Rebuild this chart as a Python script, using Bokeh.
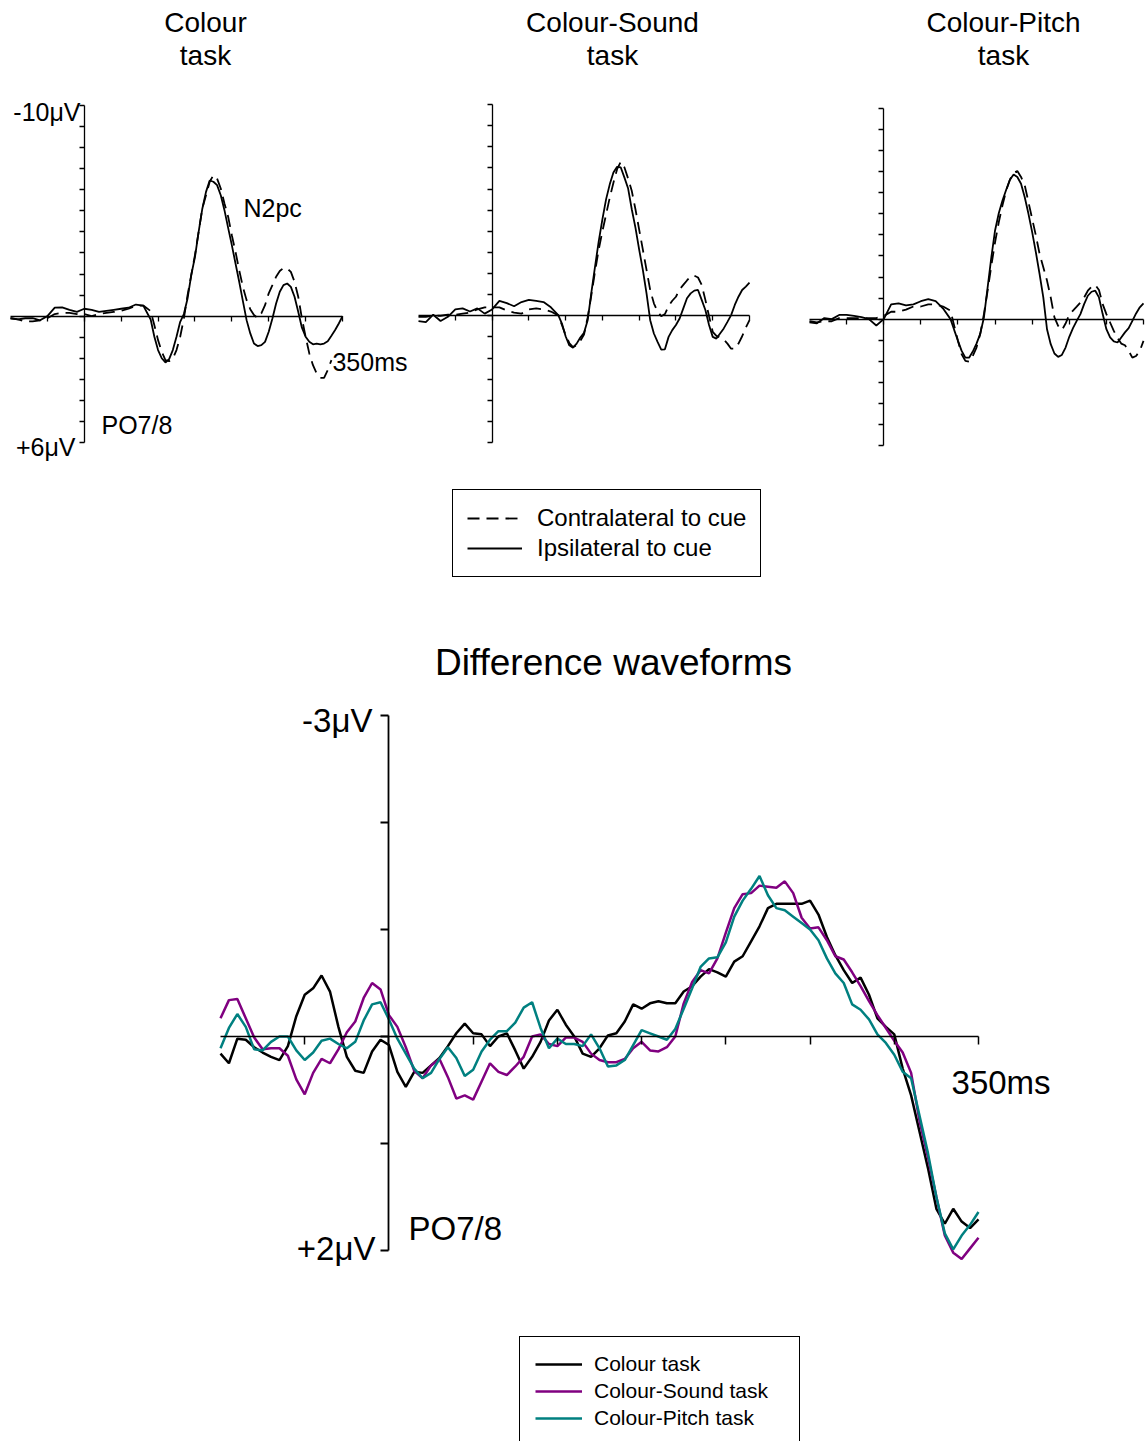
from bokeh.plotting import figure
from bokeh.layouts import column, row
from bokeh.models import Range1d, FixedTicker, Label, Legend, LegendItem, LinearAxis
from bokeh.embed import file_html
from bokeh.resources import INLINE

FONT = "Liberation Sans"

# ---------------- data ----------------
# ERP panels: 10 ms steps in the baseline, 5 ms steps from 90 ms on
T_TOP = [-100, -90, -80, -70, -60, -50, -40, -30, -20, -10, 0, 10, 20, 30, 40, 50, 60, 70, 80,
         90, 95, 100, 105, 110, 115, 120, 125, 130, 135, 140, 145, 150, 155, 160, 165, 170, 175,
         180, 185, 190, 195, 200, 205, 210, 215, 220, 225, 230, 235, 240, 245, 250, 255, 260, 265,
         270, 275, 280, 285, 290, 295, 300, 305, 310, 315, 320, 325, 330, 335, 340, 345, 350]
T5 = list(range(-100, 351, 5))          # ms, difference waveforms
MS_TICKS = [-50, 0, 50, 100, 150, 200, 250, 300, 350]
TOP_UV_TICKS = list(range(-10, 7))
BOT_UV_TICKS = [-3, -2, -1, 0, 1, 2]

# Grand-average ERPs at PO7/8 (µV, negative plotted up)
colour_ipsi = [0.1, 0.15, 0.1, 0.1, 0.2, 0.0, -0.4, -0.42, -0.3, -0.2, -0.35, -0.3, -0.2, -0.25, -0.3,
               -0.35, -0.4, -0.55, -0.5,
               0.16, 0.98, 1.61, 2.0, 2.2, 2.04, 1.61, 0.98, 0.27, -0.1, -0.84, -1.95, -2.8, -4.0,
               -5.1, -5.9, -6.44, -6.38, -6.22, -5.74, -5.03, -4.19, -3.37, -2.5, -1.63, -0.71, 0.19,
               0.82, 1.3, 1.42, 1.38, 1.22, 0.74, 0.11, -0.6, -1.16, -1.47, -1.55, -1.39, -0.92, -0.21,
               0.55, 0.98, 1.22, 1.34, 1.31, 1.34, 1.3, 1.19, 0.93, 0.66, 0.35, 0.0]
colour_contra = [0.1, 0.15, 0.25, 0.25, 0.2, 0.1, -0.1, -0.15, -0.15, -0.1, -0.1, 0.0, -0.1, -0.15, -0.2,
                 -0.25, -0.35, -0.5, -0.5,
                 -0.24, 0.43, 1.14, 1.69, 2.09, 2.14, 2.01, 1.61, 0.98, 0.11, -1.0, -1.95, -2.9, -4.0,
                 -5.11, -5.74, -6.38, -6.69, -6.53, -6.06, -5.35, -4.72, -3.84, -3.05, -2.18, -1.39, -0.76,
                 -0.33, -0.05, 0.08, -0.13, -0.52, -1.08, -1.47, -1.87, -2.14, -2.29, -2.26, -2.1, -1.63,
                 -0.92, 0.11, 0.98, 1.77, 2.33, 2.72, 2.93, 2.93, 2.56, 2.09]
sound_ipsi = [0.25, 0.3, -0.05, 0.25, 0.05, -0.3, -0.35, -0.2, -0.35, -0.1, -0.3, -0.7, -0.6, -0.45, -0.65,
              -0.75, -0.7, -0.65, -0.4,
              -0.03, 0.37, 0.97, 1.4, 1.51, 1.32, 1.03, 0.81, 0.21, -1.1, -2.33, -3.52, -4.56, -5.51,
              -6.22, -6.78, -7.05, -7.02, -6.54, -6.02, -5.03, -4.16, -3.13, -2.17, -1.06, 0.21, 0.84,
              1.24, 1.6, 1.59, 1.0, 0.68, 0.44, 0.13, -0.35, -0.83, -1.06, -1.19, -1.22, -0.75, -0.27,
              0.44, 1.0, 1.08, 0.84, 0.6, 0.29, -0.03, -0.51, -0.9, -1.22, -1.38, -1.57]
sound_contra = [0.05, 0.05, 0.0, 0.0, -0.05, -0.05, -0.1, -0.15, -0.3, -0.4, -0.4, -0.4, -0.25, -0.15, -0.1,
                -0.3, -0.35, -0.3, -0.2,
                -0.02, 0.44, 0.92, 1.29, 1.48, 1.4, 1.19, 0.89, 0.08, -0.98, -2.1, -3.13, -4.0, -4.79,
                -5.59, -6.3, -6.94, -7.29, -7.02, -6.49, -5.9, -5.03, -4.08, -3.13, -2.17, -1.22, -0.59,
                -0.19, 0.02, -0.08, -0.46, -0.71, -0.9, -1.25, -1.46, -1.67, -1.86, -1.9, -1.81, -1.46,
                -0.75, 0.02, 0.76, 0.95, 1.03, 1.13, 1.32, 1.56, 1.56, 1.32, 0.97, 0.56, 0.21]
pitch_ipsi = [0.15, 0.2, -0.05, 0.0, -0.2, -0.2, -0.15, -0.1, 0.0, 0.3, 0.0, -0.7, -0.75, -0.65, -0.7,
              -0.85, -0.95, -0.85, -0.5,
              0.0, 0.52, 1.03, 1.51, 1.83, 1.83, 1.54, 1.16, 0.7, -0.08, -1.51, -2.94, -4.21, -5.03,
              -5.63, -6.14, -6.62, -6.87, -6.75, -6.43, -5.79, -5.0, -4.13, -3.17, -2.14, -1.03, 0.48,
              1.19, 1.63, 1.79, 1.7, 1.35, 0.84, 0.43, 0.08, -0.24, -0.71, -1.11, -1.3, -1.35, -1.03,
              -0.24, 0.48, 0.87, 1.06, 1.11, 0.87, 0.63, 0.43, 0.08, -0.27, -0.56, -0.75]
pitch_contra = [0.1, 0.15, 0.1, 0.1, -0.05, -0.05, -0.05, -0.05, -0.05, -0.05, -0.15, -0.35, -0.35, -0.45, -0.6,
                -0.6, -0.7, -0.7, -0.6,
                -0.4, 0.32, 1.03, 1.67, 1.98, 2.02, 1.75, 1.35, 0.71, -0.24, -1.35, -2.54, -3.65, -4.6,
                -5.4, -6.11, -6.62, -6.94, -7.03, -6.75, -6.35, -5.56, -4.76, -3.97, -3.1, -2.46, -1.83,
                -1.03, -0.08, 0.32, 0.52, 0.21, -0.21, -0.4, -0.59, -0.79, -1.03, -1.35, -1.54, -1.63,
                -1.38, -0.71, -0.24, 0.16, 0.56, 0.9, 1.16, 1.24, 1.51, 1.83, 1.75, 1.51, 1.03]

# Difference waveforms (contra - ipsi), µV, 5 ms steps
diff_colour = [0.16, 0.25, 0.02, 0.03, 0.1, 0.15, 0.19, 0.22, 0.09, -0.19,
               -0.39, -0.45, -0.57, -0.42, -0.09, 0.19, 0.32, 0.34, 0.14, 0.03,
               0.08, 0.33, 0.47, 0.33, 0.34, 0.27, 0.2, 0.09, -0.03, -0.12,
               -0.03, -0.02, 0.09, 0.0, -0.03, 0.13, 0.3, 0.19, 0.05, -0.15,
               -0.25, -0.11, 0.0, 0.16, 0.19, 0.11, -0.01, -0.03, -0.14, -0.3,
               -0.26, -0.31, -0.33, -0.31, -0.31, -0.42, -0.47, -0.56, -0.63, -0.6,
               -0.56, -0.7, -0.75, -0.89, -1.03, -1.2, -1.24, -1.24, -1.24, -1.24,
               -1.27, -1.14, -0.93, -0.76, -0.62, -0.5, -0.55, -0.39, -0.17, -0.09,
               -0.02, 0.3, 0.55, 0.89, 1.23, 1.61, 1.75, 1.61, 1.73, 1.79, 1.71]
diff_sound = [-0.17, -0.34, -0.35, -0.17, 0.01, 0.12, 0.11, 0.11, 0.18, 0.4,
              0.54, 0.34, 0.21, 0.25, 0.12, -0.04, -0.14, -0.36, -0.5, -0.44,
              -0.2, -0.09, 0.1, 0.32, 0.39, 0.27, 0.21, 0.38, 0.58, 0.55,
              0.59, 0.42, 0.25, 0.33, 0.36, 0.28, 0.19, 0.0, -0.02, 0.07,
              0.09, 0.01, 0.01, 0.05, 0.16, 0.22, 0.24, 0.24, 0.21, 0.11,
              0.05, 0.13, 0.14, 0.1, 0.0, -0.31, -0.51, -0.62, -0.59, -0.73,
              -0.97, -1.2, -1.33, -1.34, -1.41, -1.4, -1.39, -1.45, -1.34, -1.11,
              -1.01, -1.02, -0.9, -0.75, -0.72, -0.6, -0.47, -0.33, -0.2, -0.08,
              0.04, 0.15, 0.34, 0.79, 1.13, 1.5, 1.86, 2.02, 2.08, 1.98, 1.88]
diff_pitch = [0.11, -0.08, -0.21, -0.09, 0.12, 0.13, 0.05, 0.0, 0.0, 0.13,
              0.22, 0.15, 0.04, 0.02, 0.07, 0.11, 0.05, -0.15, -0.3, -0.32,
              -0.16, 0.02, 0.16, 0.3, 0.39, 0.34, 0.21, 0.1, 0.2, 0.37,
              0.31, 0.14, 0.03, -0.05, -0.05, -0.13, -0.27, -0.32, -0.08, 0.11,
              0.02, 0.07, 0.07, 0.09, -0.02, 0.11, 0.28, 0.27, 0.22, 0.08,
              -0.06, -0.03, 0.0, 0.03, -0.07, -0.26, -0.45, -0.65, -0.73, -0.74,
              -0.88, -1.12, -1.27, -1.38, -1.5, -1.32, -1.2, -1.18, -1.12, -1.06,
              -1.0, -0.9, -0.73, -0.59, -0.5, -0.3, -0.25, -0.16, -0.02, 0.06,
              0.17, 0.33, 0.39, 0.74, 1.09, 1.5, 1.84, 1.99, 1.86, 1.76, 1.64]

PURPLE = "#800080"
TEAL = "#008080"


def lab(p, x, y, text, size, align="left"):
    p.add_layout(Label(x=x, y=y, text=text, text_font=FONT, text_font_size=size,
                       text_align=align, text_baseline="middle", text_color="black"))


def make_fig(width, height, xr, yr):
    p = figure(width=width, height=height, x_range=Range1d(*xr), y_range=Range1d(*yr),
               output_backend="svg", toolbar_location=None,
               x_axis_location=None, y_axis_location=None,
               min_border_left=0, min_border_right=0, min_border_top=0, min_border_bottom=0)
    p.outline_line_color = None
    p.grid.visible = False
    p.background_fill_color = "white"
    p.border_fill_color = "white"
    return p


def add_axes(p, ybounds, yticks, ytick_len, xtick_len, xw, yw):
    common = dict(major_label_text_color=None, major_label_text_font_size="0px",
                  major_label_standoff=0, minor_tick_line_color=None, major_tick_out=0,
                  axis_line_color="black", major_tick_line_color="black")
    xax = LinearAxis(fixed_location=0, bounds=(-100, 350), ticker=FixedTicker(ticks=MS_TICKS),
                     major_tick_in=xtick_len, axis_line_width=xw, major_tick_line_width=xw, **common)
    yax = LinearAxis(fixed_location=0, bounds=ybounds, ticker=FixedTicker(ticks=yticks),
                     major_tick_in=ytick_len, axis_line_width=yw, major_tick_line_width=yw, **common)
    p.add_layout(xax, "above")
    p.add_layout(yax, "right")


def top_panel(width, xr, yr, ipsi, contra, title1, title_x, title_y1, title_y2):
    p = make_fig(width, 600, xr, yr)
    add_axes(p, (-10, 6), TOP_UV_TICKS, 5, 5, 1.3, 1.3)
    rc = p.line(T_TOP[:len(contra)], contra, line_color="black", line_width=1.8, line_dash="12 7")
    ri = p.line(T_TOP[:len(ipsi)], ipsi, line_color="black", line_width=1.8)
    lab(p, title_x, title_y1, title1, "28px", "center")
    lab(p, title_x, title_y2, "task", "28px", "center")
    return p, rc, ri


f1, _, _ = top_panel(410, (-113.55, 442.17), (13.501, -14.985), colour_ipsi, colour_contra,
                     "Colour", 164.3, -13.94, -12.37)
f2, rc2, ri2 = top_panel(390, (-110.88, 419.33), (13.479, -14.923), sound_ipsi, sound_contra,
                         "Colour-Sound", 163.7, -13.9, -12.33)
f3, _, _ = top_panel(346, (-112.13, 354.04), (13.359, -15.128), pitch_ipsi, pitch_contra,
                     "Colour-Pitch", 161.4, -14.08, -12.52)

lab(f1, -5.1, -9.67, "-10μV", "25px", "right")
lab(f1, -11.9, 6.19, "+6μV", "25px", "right")
lab(f1, 215.8, -5.11, "N2pc", "25px")
lab(f1, 336.4, 2.2, "350ms", "25px")
lab(f1, 23.3, 5.19, "PO7/8", "25px")

leg_top = Legend(items=[LegendItem(label="Contralateral to cue", renderers=[rc2]),
                        LegendItem(label="Ipsilateral to cue", renderers=[ri2])],
                 location=(42, 23), orientation="vertical",
                 border_line_color="black", border_line_width=1, border_line_alpha=1.0,
                 background_fill_color="white", background_fill_alpha=1.0,
                 padding=14, spacing=2, margin=0,
                 glyph_width=55, glyph_height=24, label_height=24, label_standoff=15,
                 label_text_font=FONT, label_text_font_size="24px", label_text_color="black")
f2.add_layout(leg_top, "center")

# ---------------- difference waveforms ----------------
f4 = make_fig(1146, 841, (-230.61, 449.74), (3.785, -4.0748))
add_axes(f4, (-3, 2), BOT_UV_TICKS, 8, 8, 1.5, 1.8)
r1 = f4.line(T5, diff_colour, line_color="black", line_width=2.5)
r2 = f4.line(T5, diff_sound, line_color=PURPLE, line_width=2.5)
r3 = f4.line(T5, diff_pitch, line_color=TEAL, line_width=2.5)

lab(f4, 133.3, -3.495, "Difference waveforms", "37px", "center")
lab(f4, -9.8, -2.95, "-3μV", "33px", "right")
lab(f4, -8.0, 1.98, "+2μV", "33px", "right")
lab(f4, 334, 0.43, "350ms", "33px")
lab(f4, 11.6, 1.79, "PO7/8", "33px")

leg_bot = Legend(items=[LegendItem(label="Colour task", renderers=[r1]),
                        LegendItem(label="Colour-Sound task", renderers=[r2]),
                        LegendItem(label="Colour-Pitch task", renderers=[r3])],
                 location=(519, -5), orientation="vertical",
                 border_line_color="black", border_line_width=1, border_line_alpha=1.0,
                 background_fill_color="white", background_fill_alpha=1.0,
                 padding=15, spacing=3, margin=0,
                 glyph_width=47, glyph_height=20, label_height=20, label_standoff=12,
                 label_width=190,
                 label_text_font=FONT, label_text_font_size="21px", label_text_color="black")
f4.add_layout(leg_bot, "center")

layout = column(row(f1, f2, f3, spacing=0), f4, spacing=0)
open("out.html", "w").write(file_html(layout, INLINE))
